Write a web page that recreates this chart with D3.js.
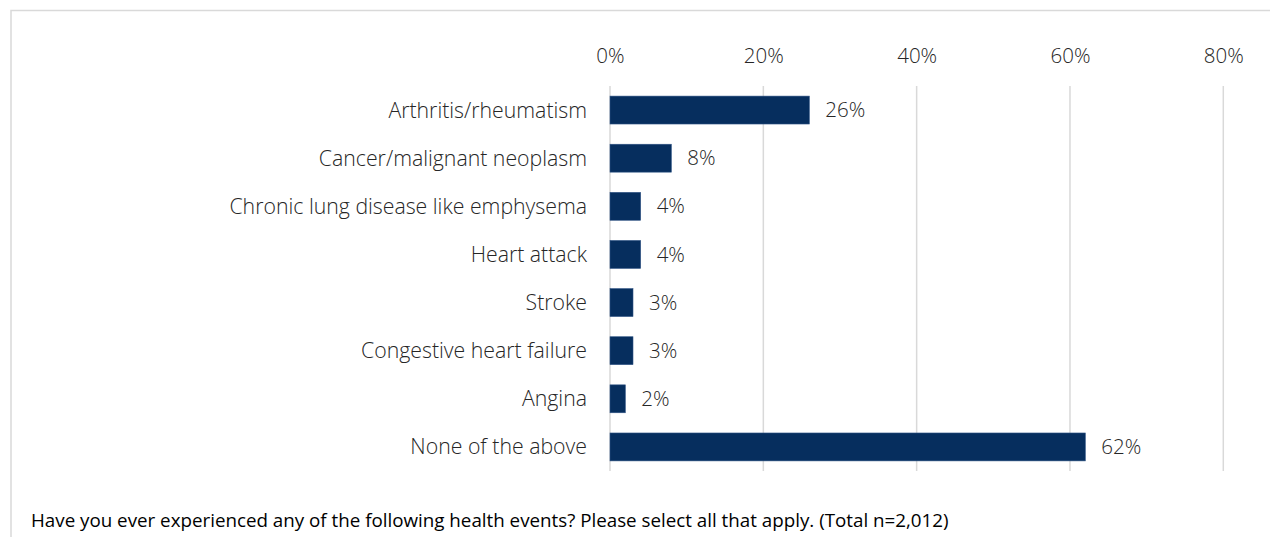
<!DOCTYPE html>
<html><head><meta charset="utf-8">
<script src="https://cdn.jsdelivr.net/npm/d3@7"></script>
<style>
html,body{margin:0;padding:0;background:#fff;}
svg{display:block;}
text{font-family:"Open Sans","Noto Sans",sans-serif;fill:#262626;}
</style></head>
<body>
<script>
const categories = ["Arthritis/rheumatism","Cancer/malignant neoplasm","Chronic lung disease like emphysema","Heart attack","Stroke","Congestive heart failure","Angina","None of the above"];
const values = [26, 8, 4, 4, 3, 3, 2, 62];
const tickValues = [0, 20, 40, 60, 80];
const footnote = "Have you ever experienced any of the following health events? Please select all that apply. (Total n=2,012)";

const W = 1270, H = 537;
const svg = d3.select("body").append("svg").attr("width", W).attr("height", H);

// fit font size so that a sample string reaches a target width
function fitSize(str, target, weight, family) {
  const t = svg.append("text").attr("font-size", 20).attr("font-weight", weight)
    .attr("font-family", family).text(str);
  const w = t.node().getComputedTextLength();
  t.remove();
  return 20 * target / w;
}
const labelFont = '"Open Sans","Noto Sans",sans-serif';
const labelSize = fitSize("Chronic lung disease like emphysema", 358, 300, labelFont);
const valueSize = fitSize("26%", 40, 300, labelFont);
const footSize = fitSize(footnote, 918, 400, labelFont);

// outer frame
svg.append("rect").attr("x", 11).attr("y", 10.5).attr("width", W + 10).attr("height", H + 10)
  .attr("fill", "none").attr("stroke", "#d9d9d9").attr("stroke-width", 1.5);

const x = d3.scaleLinear().domain([0, 80]).range([610, 1223.3]);
const y = d3.scaleBand().domain(categories).range([86, 471]).paddingInner(0.42).paddingOuter(0.21);

// gridlines
svg.append("g").selectAll("line").data(tickValues).join("line")
  .attr("x1", d => x(d)).attr("x2", d => x(d))
  .attr("y1", 86).attr("y2", 471)
  .attr("stroke", "#d9d9d9").attr("stroke-width", 1.5);

// top axis labels
const axis = d3.axisTop(x).tickValues(tickValues).tickFormat(d => d + "%").tickSize(0).tickPadding(0);
const ag = svg.append("g").attr("transform", "translate(0,63)").call(axis);
ag.select(".domain").remove();
ag.selectAll("text").attr("font-size", valueSize).attr("font-weight", 300)
  .attr("font-family", labelFont).attr("fill", "#262626").attr("dy", 0);

// bars
svg.append("g").selectAll("rect").data(values).join("rect")
  .attr("x", x(0)).attr("y", (d, i) => y(categories[i]))
  .attr("width", d => x(d) - x(0)).attr("height", y.bandwidth())
  .attr("fill", "#062e5e").attr("stroke", "#2f5485").attr("stroke-width", 0.6);

// category labels
svg.append("g").selectAll("text").data(categories).join("text")
  .attr("x", 587).attr("y", d => y(d) + y.bandwidth() / 2)
  .attr("dy", "0.35em").attr("text-anchor", "end").attr("font-size", labelSize)
  .attr("font-weight", 300).text(d => d);

// value labels
svg.append("g").selectAll("text").data(values).join("text")
  .attr("x", d => x(d) + 16).attr("y", (d, i) => y(categories[i]) + y.bandwidth() / 2)
  .attr("dy", "0.35em").attr("font-size", valueSize).attr("font-weight", 300).text(d => d + "%");

// footnote
svg.append("text").attr("x", 31).attr("y", 527).attr("font-size", footSize)
  .style("fill", "#000").text(footnote);
</script>
</body></html>
